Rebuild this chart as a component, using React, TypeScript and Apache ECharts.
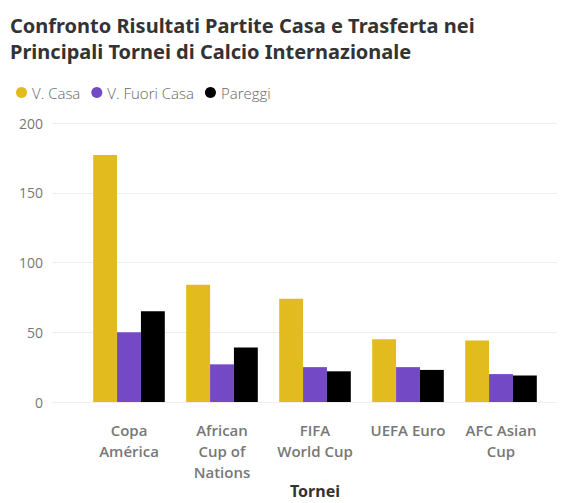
import React, { useEffect, useRef } from "react";
import * as echarts from "echarts";

const categories = ["Copa América", "African Cup of Nations", "FIFA World Cup", "UEFA Euro", "AFC Asian Cup"];
const tickLabels = ["Copa\nAmérica", "African\nCup of\nNations", "FIFA\nWorld Cup", "UEFA Euro", "AFC Asian\nCup"];
const seriesNames = ["V. Casa", "V. Fuori Casa", "Pareggi"];
const vCasa = [177, 84, 74, 45, 44];
const vFuoriCasa = [50, 27, 25, 25, 20];
const pareggi = [65, 39, 22, 23, 19];
const yTicks = { min: 0, max: 200, interval: 50 };
const colors = ["#E2BB1E", "#7449C6", "#000000"];

export default function App() {
  const ref = useRef<HTMLDivElement>(null);
  useEffect(() => {
    if (!ref.current) return;
    const chart = echarts.init(ref.current, undefined, { renderer: "svg" });
    const font = "'Open Sans', 'Noto Sans', sans-serif";
    chart.setOption({
      animation: false,
      title: {
        text: "Confronto Risultati Partite Casa e Trasferta nei\nPrincipali Tornei di Calcio Internazionale",
        left: 5,
        top: 7,
        textStyle: { fontFamily: "'Noto Sans', sans-serif", fontWeight: "bold", fontSize: 20, color: "#333", lineHeight: 26 },
      },
      legend: {
        left: 11,
        top: 80,
        icon: "circle",
        itemWidth: 11,
        itemHeight: 11,
        itemGap: 11,
        textStyle: { fontFamily: font, fontWeight: 300, fontSize: 15, color: "#666" },
        data: seriesNames,
      },
      grid: [
        { left: 82.5, right: 17.5, top: 123, bottom: 101, containLabel: false, outerBoundsMode: "none" },
        { left: 52, right: 8, top: 123, bottom: 101, containLabel: false, outerBoundsMode: "none" },
      ],
      xAxis: [
        {
          type: "category",
          gridIndex: 0,
          data: categories,
          axisLine: { show: false },
          axisTick: { show: false },
          axisLabel: {
            interval: 0,
            margin: 17,
            lineHeight: 21,
            fontFamily: font,
            fontWeight: 600,
            fontSize: 15,
            color: "#777",
            formatter: (_v: string, i: number) => tickLabels[i],
          },
          name: "Tornei",
          nameLocation: "middle",
          nameGap: 80,
          nameMoveOverlap: false,
          nameTextStyle: { fontFamily: "'Noto Sans', sans-serif", fontWeight: "bold", fontSize: 16, lineHeight: 18, color: "#333" },
        },
        { type: "category", gridIndex: 1, data: categories, show: false },
      ],
      yAxis: [
        { type: "value", gridIndex: 0, ...yTicks, show: false, splitLine: { show: false } },
        {
          type: "value",
          gridIndex: 1,
          ...yTicks,
          axisLine: { show: false },
          axisTick: { show: false },
          axisLabel: { fontFamily: font, fontSize: 14, color: "#777", margin: 9 },
          splitLine: { lineStyle: { color: "#eeeeee", width: 1 } },
        },
      ],
      series: [
        { name: seriesNames[0], type: "bar", data: vCasa, itemStyle: { color: colors[0] }, barGap: "0%", barCategoryGap: "23%", xAxisIndex: 0, yAxisIndex: 0 },
        { name: seriesNames[1], type: "bar", data: vFuoriCasa, itemStyle: { color: colors[1] }, barGap: "0%", barCategoryGap: "23%", xAxisIndex: 0, yAxisIndex: 0 },
        { name: seriesNames[2], type: "bar", data: pareggi, itemStyle: { color: colors[2] }, barGap: "0%", barCategoryGap: "23%", xAxisIndex: 0, yAxisIndex: 0 },
      ],
    });
    return () => chart.dispose();
  }, []);
  return <div ref={ref} style={{ position: "absolute", left: 0, top: 0, width: 565, height: 503 }} />;
}
